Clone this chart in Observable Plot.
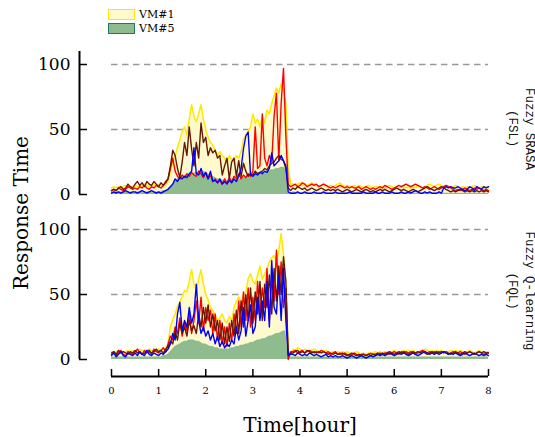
<!DOCTYPE html>
<html><head><meta charset="utf-8">
<script src="https://cdn.jsdelivr.net/npm/d3@7"></script>
<script src="https://cdn.jsdelivr.net/npm/@observablehq/plot@0.6"></script>
<style>
body{margin:0;background:#fff;}
#chart{position:relative;width:535px;height:437px;overflow:hidden;font-family:"DejaVu Serif",serif;color:#000;}
#chart svg{position:absolute;left:0;}
.abs{position:absolute;white-space:nowrap;}
.facet{position:absolute;writing-mode:vertical-rl;text-align:center;font-family:"Liberation Mono",monospace;font-size:12.4px;line-height:17px;transform:translate(-50%,-50%);white-space:pre;color:#111;}
</style></head><body><div id="chart"></div>
<script>
// ---- axis / label data ----
const hours = [0,1,2,3,4,5,6,7,8];
const yTicks = [0,50,100];
const stepHours = 0.05;
const seriesNames = ["VM#1","VM#5","VM#2","VM#3","VM#4"];
const panelLabels = ["Fuzzy SRASA\n(FSL)", "Fuzzy Q-learning\n(FQL)"];

// ---- Panel 1: Fuzzy SRASA (FSL) ----
const fslVM1 = [5,6,5,6,5,6,7,6,5,6, 7,6,7,6,8,7,6,7,8,7, 8,7,6,8,
 10,18,25,30,36,42,48,52,46,58, 69,60,56,62,69,58,50,44,40,38, 34,30,33,30,28,24,30,27,25,30, 28,33,42,46,48,52,62,55,58,52, 60,55,65,62,70,76,82,78,85,80, 70,20,8,
 8,7,8,9,7,8,7,8,9,8, 7,6,7,8,7,6,7,6,7,8, 9,7,6,7,6,6,7,6,7,6, 5,6,7,6,5,6,6,5,6,5, 6,7,6,5,6,5,6,6,5,6, 5,6,5,7,6,5,6,7,8,7, 6,7,8,7,6,7,6,5,6,7, 6,5,6,5,6,5,6,7,6,5, 6,5,6,5];
const fslVM5 = [2,2,2,2,2,2,2,2,2,2, 2,2,2,2,2,2,2,2,2,2, 2,2,3,3,
 4,6,8,10,12,13,14,14,15,15, 16,16,17,17,18,18,17,16,15,14, 13,12,12,11,11,10,10,10,11,11, 12,12,13,13,14,14,15,15,16,16, 17,17,18,18,19,19,20,20,21,21, 20,2,1,
 2,2,1,1,1,1,1,1,1,1, 1,1,1,1,1,1,1,1,1,1, 1,1,1,1,1,1,1,1,1,1, 1,1,1,1,1,1,1,1,1,1, 1,1,1,1,1,1,1,1,1,1, 1,1,1,1,1,1,1,1,1,1, 1,1,1,1,1,1,1,1,1,1, 1,1,1,1,1,1,1,1,1,1, 1,1,1,1];
const fslRed = [3,4,3,5,4,3,4,6,5,4, 5,4,6,5,7,5,4,6,5,7, 6,5,7,9,
 12,20,28,18,14,12,15,13,16,14, 17,15,14,18,16,13,17,12,15,10, 12,9,11,8,12,9,13,10,14,12, 16,12,15,13,16,14,18,52,20,22, 62,28,22,30,25,60,78,26,70,97, 45,8,6,
 7,8,6,7,9,8,6,7,8,7, 8,6,7,8,7,6,5,6,5,6, 7,6,5,6,5,6,5,5,6,4, 5,6,5,4,5,4,5,6,5,7, 6,5,4,5,6,7,6,7,8,7, 6,7,8,7,6,5,6,5,4,5, 6,5,4,5,6,7,6,5,4,3, 4,3,4,5,4,3,4,5,4,5, 4,3,4,3];
const fslBlue = [1,2,1,2,1,2,3,2,1,2, 2,1,2,3,2,1,2,3,2,1, 2,1,2,3,
 4,6,8,12,10,13,12,14,13,16, 18,36,16,15,20,14,17,12,18,10, 11,9,12,8,10,8,11,9,12,10, 14,20,35,45,48,15,14,16,15,17, 16,18,17,20,32,22,24,26,30,26, 22,2,1,
 1,1,2,1,1,2,1,1,1,2, 1,1,1,2,1,1,1,1,2,1, 1,1,1,1,2,1,1,1,1,1, 2,1,1,1,1,2,1,1,2,1, 1,1,2,1,1,1,2,1,1,2, 1,2,3,2,1,1,2,1,2,1, 1,1,2,1,5,6,5,6,5,5, 6,5,4,3,4,6,5,3,6,5, 4,6,5,6];
const fslBrown = [3,4,3,5,6,4,5,8,6,5, 8,10,7,9,6,10,8,7,10,8, 6,9,7,10,
 12,22,34,30,20,13,25,40,30,52, 35,22,40,28,55,40,44,30,36,32, 34,28,30,15,22,28,12,25,28,14, 26,14,24,18,14,16,15,18,16,17, 18,20,19,22,24,25,28,30,27,26, 20,5,3,
 5,4,6,5,4,5,3,4,5,4, 3,4,5,4,3,4,3,4,3,4, 3,2,3,4,3,2,3,4,3,2, 3,4,3,2,3,2,3,4,3,4, 3,2,3,4,5,4,3,4,3,2, 3,4,3,2,3,4,5,6,5,4, 3,4,5,6,5,4,3,2,3,2, 3,4,3,2,3,2,3,2,3,2, 3,2,3,2];

// ---- Panel 2: Fuzzy Q-learning (FQL) ----
const fqlVM1 = [6,5,6,7,6,5,6,7,6,7, 6,7,8,7,6,7,8,7,6,7, 8,7,8,9,
 12,25,31,35,41,44,48,53,52,60, 69,58,54,62,69,58,50,46,40,38, 34,30,32,35,30,28,33,30,40,45, 48,44,50,52,62,66,60,58,65,72, 62,66,70,75,78,80,76,84,97,80, 60,6,5,
 8,7,9,8,7,8,7,6,7,8, 7,6,7,6,7,6,5,6,5,6, 5,6,5,6,5,4,5,6,5,4, 5,4,5,4,5,6,5,6,5,6, 6,5,6,7,6,5,6,7,6,7, 6,7,6,5,6,7,8,7,6,7, 6,7,6,7,6,5,6,7,6,7, 6,7,6,5,6,7,6,5,6,7, 6,5,6,6];
const fqlVM5 = [2,2,2,2,2,2,2,2,2,2, 2,2,2,2,2,2,2,2,2,2, 2,2,3,3,
 4,6,8,10,11,12,13,14,14,15, 15,15,14,14,13,12,12,11,10,10, 9,9,8,8,8,8,8,9,9,10, 10,11,11,12,12,13,13,14,15,15, 16,16,17,18,18,19,20,20,21,22, 22,2,2,
 2,2,2,2,2,2,2,2,2,2, 2,2,2,2,2,2,2,2,2,2, 2,2,2,2,2,2,2,2,2,2, 2,2,2,2,2,2,2,2,2,2, 2,2,2,2,2,2,2,2,2,2, 2,2,2,2,2,2,2,2,2,2, 2,2,2,2,2,2,2,2,2,2, 2,2,2,2,2,2,2,2,2,2, 2,2,2,2];
const fqlRed = [4,6,3,5,7,4,3,6,5,4, 6,8,5,4,7,5,6,4,8,6, 5,7,9,6,
 12,18,15,25,20,32,18,28,22,35, 20,30,45,28,48,22,40,30,38,20, 35,15,30,12,25,10,28,14,35,20, 45,25,52,30,55,25,48,30,60,35, 55,40,70,30,62,45,84,50,75,40, 55,0,6,
 6,7,5,6,7,5,6,7,6,5, 6,5,7,6,5,6,4,5,6,4, 5,4,5,4,3,4,5,4,3,4, 4,3,4,5,4,3,4,5,4,5, 5,4,5,6,5,4,6,5,6,5, 6,5,4,5,6,7,6,5,6,5, 6,5,6,5,6,5,4,5,6,5, 5,6,5,4,5,6,5,4,5,6, 5,4,5,5];
const fqlBlue = [3,5,2,4,6,3,2,5,4,3, 5,3,6,4,3,7,4,3,5,4, 3,5,4,6,
 8,12,20,15,35,44,22,30,25,40, 28,35,58,30,20,25,18,22,15,20, 12,18,10,14,9,12,10,15,12,25, 15,22,40,18,30,42,20,25,48,30, 45,30,60,25,76,40,35,65,30,70, 30,3,4,
 4,3,5,4,3,4,3,5,4,3, 4,3,2,3,4,2,3,2,3,2, 2,3,2,1,2,3,2,1,2,3, 2,1,2,3,2,3,4,3,4,3, 4,5,4,3,4,5,4,5,4,3, 4,5,4,3,4,5,6,5,4,5, 4,5,4,5,6,5,4,5,4,5, 4,3,4,5,4,3,4,5,4,3, 4,3,4,3];
const fqlBrown = [5,6,4,7,5,6,5,4,6,5, 7,5,6,4,5,6,7,5,6,8, 6,7,5,8,
 10,14,12,22,15,28,20,25,18,30, 22,26,20,35,25,40,28,42,25,35, 22,30,15,28,12,25,14,30,18,38, 20,45,25,50,30,55,28,52,35,60, 30,58,40,65,35,70,45,72,50,79, 60,4,5,
 5,6,7,5,6,5,7,6,5,6, 5,6,5,6,5,4,5,4,5,4, 4,5,4,3,4,5,4,3,4,3, 4,3,4,3,4,4,5,4,5,4, 5,6,5,4,5,6,5,6,5,4, 5,6,5,6,5,6,5,4,5,6, 5,6,5,6,5,6,5,4,5,6, 5,4,5,6,5,6,5,4,5,6, 5,6,5,5];

const panels = [
  {label: panelLabels[0], vm1: fslVM1, vm5: fslVM5, red: fslRed, blue: fslBlue, brown: fslBrown},
  {label: panelLabels[1], vm1: fqlVM1, vm5: fqlVM5, red: fqlRed, blue: fqlBlue, brown: fqlBrown}
];

const COL = {vm1Fill:"#fffacd", vm1Line:"#ffe800", vm5Fill:"#8fbc8f", vm5Edge:"#1e7a68", red:"#ff0000", blue:"#0000ff", brown:"#661800"};
const rows = arr => arr.map((v, i) => ({t: i * stepHours, v}));

const W = 535, ML = 111, MR = 47, FRAME_H = 143, YOFF = -32, XOFF = 17;

function panelMarks(p) {
  return [
    Plot.ruleY([50, 100], {stroke: "#999", strokeWidth: 1.3, strokeDasharray: "6.5,4.5"}),
    Plot.areaY(rows(p.vm1), {x: "t", y: "v", fill: COL.vm1Fill}),
    Plot.lineY(rows(p.vm1), {x: "t", y: "v", stroke: COL.vm1Line, strokeWidth: 1.5}),
    Plot.areaY(rows(p.vm5), {x: "t", y: "v", fill: COL.vm5Fill}),
    Plot.lineY(rows(p.red), {x: "t", y: "v", stroke: COL.red, strokeWidth: 1.4}),
    Plot.lineY(rows(p.brown), {x: "t", y: "v", stroke: COL.brown, strokeWidth: 1.4}),
    Plot.lineY(rows(p.blue), {x: "t", y: "v", stroke: COL.blue, strokeWidth: 1.4}),
    Plot.ruleX([0], {y1: 0, y2: 110, dx: YOFF, stroke: "#000", strokeWidth: 2}),
    Plot.tickY(yTicks, {y: d => d, dx: YOFF, insetRight: (W - ML - MR) - 8, stroke: "#000", strokeWidth: 1.5}),
    Plot.axisY(yTicks, {tickSize: 0, tickPadding: 9, dx: YOFF, fontSize: 17, fontFamily: "DejaVu Serif", label: null})
  ];
}

const chart = document.getElementById("chart");

const topPlot = Plot.plot({
  width: W, height: 200, marginLeft: ML, marginRight: MR, marginTop: 51, marginBottom: 6,
  x: {domain: [0, 8], axis: null}, y: {domain: [0, 110], axis: null},
  style: {background: "transparent", overflow: "visible"},
  marks: panelMarks(panels[0])
});
topPlot.style.top = "0px";
chart.appendChild(topPlot);

const bottomPlot = Plot.plot({
  width: W, height: 237, marginLeft: ML, marginRight: MR, marginTop: 16, marginBottom: 78,
  x: {domain: [0, 8], axis: null}, y: {domain: [0, 110], axis: null},
  style: {background: "transparent", overflow: "visible"},
  marks: [
    ...panelMarks(panels[1]),
    Plot.ruleY([0], {dy: XOFF, stroke: "#000", strokeWidth: 2}),
    Plot.tickX(hours, {x: d => d, dy: XOFF, insetTop: FRAME_H - 7, stroke: "#000", strokeWidth: 1.5}),
    Plot.axisX(hours, {tickSize: 0, tickPadding: 10, dy: XOFF, fontSize: 10, fontFamily: "DejaVu Serif", label: null})
  ]
});
bottomPlot.style.top = "200px";
chart.appendChild(bottomPlot);

const yt = document.createElement("div");
yt.className = "abs";
yt.textContent = "Response Time";
Object.assign(yt.style, {left: "21px", top: "213px", fontSize: "20px", lineHeight: "20px", transform: "translate(-50%,-50%) rotate(-90deg)"});
chart.appendChild(yt);

const xt = document.createElement("div");
xt.className = "abs";
xt.textContent = "Time[hour]";
Object.assign(xt.style, {left: "300px", top: "415px", fontSize: "20px", lineHeight: "20px", transform: "translateX(-50%)"});
chart.appendChild(xt);

[[520, 129], [520, 291]].forEach(([x, y], i) => {
  const d = document.createElement("div");
  d.className = "facet";
  d.textContent = panels[i].label;
  Object.assign(d.style, {left: x + "px", top: y + "px"});
  chart.appendChild(d);
});

[[seriesNames[0], COL.vm1Fill, COL.vm1Line, 9], [seriesNames[1], COL.vm5Fill, COL.vm5Edge, 23]].forEach(([name, fill, edge, y]) => {
  const sw = document.createElement("div");
  sw.className = "abs";
  Object.assign(sw.style, {left: "108px", top: y + "px", width: "27px", height: "11px", boxSizing: "border-box", border: "1.5px solid " + edge, background: fill});
  chart.appendChild(sw);
  const tx = document.createElement("div");
  tx.className = "abs";
  tx.textContent = name;
  Object.assign(tx.style, {left: "139px", top: (y - 1) + "px", fontSize: "11px", lineHeight: "13px"});
  chart.appendChild(tx);
});
</script>
</body></html>
